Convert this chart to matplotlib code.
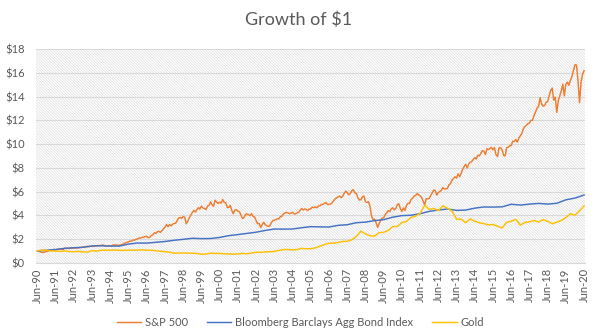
import matplotlib

matplotlib.use("Agg")
import matplotlib.dates as mdates
import matplotlib.pyplot as plt
import pandas as pd
from matplotlib.patches import Rectangle
from matplotlib.ticker import FuncFormatter, MultipleLocator

# S&P 500 growth of $1, monthly from Jun-90 to Jun-20
sp500 = [
    1.00, 0.99, 0.90, 0.87, 0.86, 0.92, 0.94,  # 1990 Jun-Dec
    0.98, 1.04, 1.09, 1.09, 1.13, 1.07, 1.12, 1.14, 1.14, 1.15, 1.10, 1.23,
    1.20, 1.21, 1.20, 1.24, 1.24, 1.22, 1.26, 1.23, 1.26, 1.27, 1.30, 1.32,
    1.33, 1.34, 1.38, 1.35, 1.38, 1.38, 1.37, 1.42, 1.43, 1.45, 1.43, 1.45,
    1.50, 1.45, 1.40, 1.42, 1.44, 1.40, 1.44, 1.50, 1.48, 1.51, 1.45, 1.47,
    1.50, 1.55, 1.62, 1.66, 1.72, 1.76, 1.82, 1.82, 1.91, 1.90, 1.98, 2.01,
    2.08, 2.09, 2.13, 2.16, 2.21, 2.22, 2.11, 2.15, 2.29, 2.35, 2.53, 2.47,
    2.62, 2.64, 2.55, 2.70, 2.86, 2.99, 3.22, 3.03, 3.22, 3.11, 3.25, 3.30,
    3.33, 3.57, 3.77, 3.81, 3.74, 3.88, 3.84, 3.28, 3.51, 3.79, 4.01, 4.24,
    4.41, 4.27, 4.47, 4.64, 4.52, 4.77, 4.61, 4.58, 4.48, 4.76, 4.85, 5.13,
    4.87, 4.77, 5.27, 5.10, 4.99, 5.11, 5.03, 5.33, 5.08, 5.05, 4.65, 4.67,
    4.83, 4.38, 4.13, 4.44, 4.47, 4.35, 4.31, 4.03, 3.73, 3.80, 4.08, 4.11,
    4.05, 3.97, 4.14, 3.89, 3.85, 3.57, 3.29, 3.31, 2.97, 3.22, 3.41, 3.20,
    3.12, 3.06, 3.11, 3.37, 3.54, 3.58, 3.63, 3.70, 3.69, 3.89, 3.92, 4.12,
    4.19, 4.24, 4.20, 4.13, 4.18, 4.26, 4.11, 4.12, 4.20, 4.26, 4.42, 4.56,
    4.45, 4.53, 4.49, 4.40, 4.53, 4.53, 4.69, 4.64, 4.71, 4.63, 4.79, 4.79,
    4.91, 4.91, 5.01, 5.07, 4.91, 4.91, 4.94, 5.04, 5.22, 5.38, 5.47, 5.54,
    5.62, 5.49, 5.60, 5.84, 6.03, 5.92, 5.73, 5.81, 6.07, 6.16, 5.89, 5.84,
    5.48, 5.29, 5.31, 5.56, 5.62, 5.13, 5.08, 5.15, 4.73, 3.93, 3.64, 3.67,
    3.35, 2.98, 3.28, 3.58, 3.77, 3.78, 4.06, 4.19, 4.39, 4.30, 4.55, 4.63,
    4.46, 4.58, 4.90, 4.97, 4.57, 4.32, 4.62, 4.40, 4.83, 5.00, 4.99, 5.32,
    5.44, 5.61, 5.66, 5.82, 5.74, 5.64, 5.52, 5.20, 4.88, 5.40, 5.38, 5.42,
    5.66, 5.89, 6.13, 6.08, 5.70, 5.93, 6.00, 6.12, 6.34, 6.21, 6.23, 6.27,
    6.59, 6.66, 6.97, 7.10, 7.24, 7.13, 7.49, 7.25, 7.54, 7.87, 8.10, 8.29,
    7.99, 8.34, 8.47, 8.53, 8.70, 8.87, 8.74, 9.07, 9.01, 9.22, 9.45, 9.41,
    9.12, 9.62, 9.54, 9.63, 9.73, 9.52, 9.71, 9.10, 8.95, 9.69, 9.70, 9.53,
    9.05, 9.01, 9.70, 9.73, 9.87, 9.88, 10.24, 10.22, 10.38, 10.17, 10.52, 10.71,
    10.91, 11.31, 11.48, 11.59, 11.72, 11.78, 12.01, 12.01, 12.42, 12.70, 13.05, 13.18,
    13.92, 13.38, 13.21, 13.24, 13.53, 13.59, 14.08, 14.51, 14.73, 13.71, 13.96, 12.68,
    13.67, 14.08, 14.49, 15.06, 14.07, 15.04, 15.24, 14.96, 15.38, 15.70, 16.23, 16.70,
    16.67, 15.27, 13.50, 15.21, 15.90, 16.19,  # 2020 Jan-Jun
]

# Bloomberg Barclays Agg, every six months (Jun / Dec)
bond = [
    1.00, 1.05, 1.11, 1.21, 1.26, 1.30, 1.41, 1.43, 1.40, 1.40,
    1.57, 1.66, 1.65, 1.72, 1.79, 1.89, 1.97, 2.06, 2.03, 2.04,
    2.13, 2.28, 2.37, 2.47, 2.57, 2.72, 2.84, 2.83, 2.84, 2.95,
    3.04, 3.02, 3.01, 3.15, 3.20, 3.37, 3.42, 3.55, 3.63, 3.84,
    3.97, 4.00, 4.13, 4.33, 4.44, 4.53, 4.41, 4.44, 4.60, 4.70,
    4.69, 4.71, 4.93, 4.86, 4.94, 5.00, 4.94, 5.01, 5.30, 5.45,
    5.71,
]

# Gold, quarterly (Jun / Sep / Dec / Mar)
gold = [
    1.00, 1.06, 1.04,
    0.99, 0.98, 0.95, 0.99,
    0.94, 0.93, 0.95, 0.91,
    0.90, 1.02, 0.97, 1.05,
    1.05, 1.06, 1.07, 1.04,
    1.04, 1.06, 1.05, 1.06,
    1.08, 1.05, 1.05, 1.01,
    0.96, 0.93, 0.89, 0.80,
    0.81, 0.82, 0.80, 0.80,
    0.78, 0.71, 0.73, 0.80,
    0.78, 0.78, 0.75, 0.74,
    0.72, 0.74, 0.78, 0.75,
    0.81, 0.88, 0.87, 0.91,
    0.92, 0.95, 1.03, 1.11,
    1.11, 1.08, 1.11, 1.21,
    1.17, 1.18, 1.25, 1.39,
    1.53, 1.64, 1.64, 1.71,
    1.79, 1.80, 1.93, 2.21,
    2.66, 2.43, 2.27, 2.24,
    2.53, 2.56, 2.72, 3.05,
    3.05, 3.38, 3.48, 3.82,
    3.92, 4.16, 4.85, 4.50,
    4.58, 4.38, 4.79, 4.60,
    4.36, 3.67, 3.67, 3.37,
    3.69, 3.50, 3.37, 3.29,
    3.19, 3.22, 3.07, 2.93,
    3.40, 3.49, 3.66, 3.17,
    3.39, 3.45, 3.55, 3.43,
    3.63, 3.50, 3.28, 3.42,
    3.56, 3.80, 4.13, 4.01,
    4.37, 4.80,
]

sp_dates = pd.date_range("1990-06-01", periods=len(sp500), freq="MS")
bond_dates = pd.date_range("1990-06-01", periods=len(bond), freq="6MS")
gold_dates = pd.date_range("1990-06-01", periods=len(gold), freq="3MS")

TEXT = "#595959"
GRID = "#d9d9d9"
plt.rcParams["font.family"] = ["Lato", "DejaVu Sans"]
plt.rcParams["hatch.linewidth"] = 0.45

fig = plt.figure(figsize=(5.97, 3.36), dpi=100)
ax = fig.add_axes([0.0603, 0.2182, 0.9196, 0.6351])

# 細かい斜線ハッチの背景
ax.add_patch(
    Rectangle(
        (0, 0), 1, 1, transform=ax.transAxes, facecolor="white",
        edgecolor="#d9d9d9", linewidth=0, hatch="\\" * 12, zorder=0,
    )
)

ax.plot(sp_dates, sp500, color="#ED7D31", lw=1.05, label="S&P 500", zorder=3)
ax.plot(bond_dates, bond, color="#4472C4", lw=1.05,
        label="Bloomberg Barclays Agg Bond Index", zorder=3)
ax.plot(gold_dates, gold, color="#FFC000", lw=1.05, label="Gold", zorder=3)

ax.set_ylim(0, 18)
ax.yaxis.set_major_locator(MultipleLocator(2))
ax.yaxis.set_major_formatter(FuncFormatter(lambda v, _: f"${v:.0f}"))
ax.set_xlim(pd.Timestamp("1990-05-03"), pd.Timestamp("2020-06-19"))
ax.set_xticks(pd.date_range("1990-06-01", "2020-06-01", freq="12MS"))
ax.xaxis.set_major_formatter(mdates.DateFormatter("%b-%y"))
plt.setp(ax.get_xticklabels(), rotation=90)

ax.grid(True, axis="y", color=GRID, lw=0.8, zorder=1)
ax.set_axisbelow(False)
for side in ("top", "right", "left"):
    ax.spines[side].set_visible(False)
ax.spines["bottom"].set_color(GRID)
ax.spines["bottom"].set_linewidth(0.8)
ax.tick_params(axis="y", length=0, pad=8, labelsize=8, labelcolor=TEXT)
ax.tick_params(axis="x", length=0, pad=4, labelsize=8, labelcolor=TEXT)

fig.text(0.5, 1 - 20 / 336, "Growth of $1", ha="center", va="center",
         fontsize=13, color=TEXT)

fig.legend(loc="center", bbox_to_anchor=(0.503, 1 - 322 / 336), ncol=3,
           frameon=False, fontsize=8, labelcolor=TEXT, handlelength=2.2,
           handletextpad=0.35, columnspacing=1.7)

fig.savefig("out.png", dpi=100)
